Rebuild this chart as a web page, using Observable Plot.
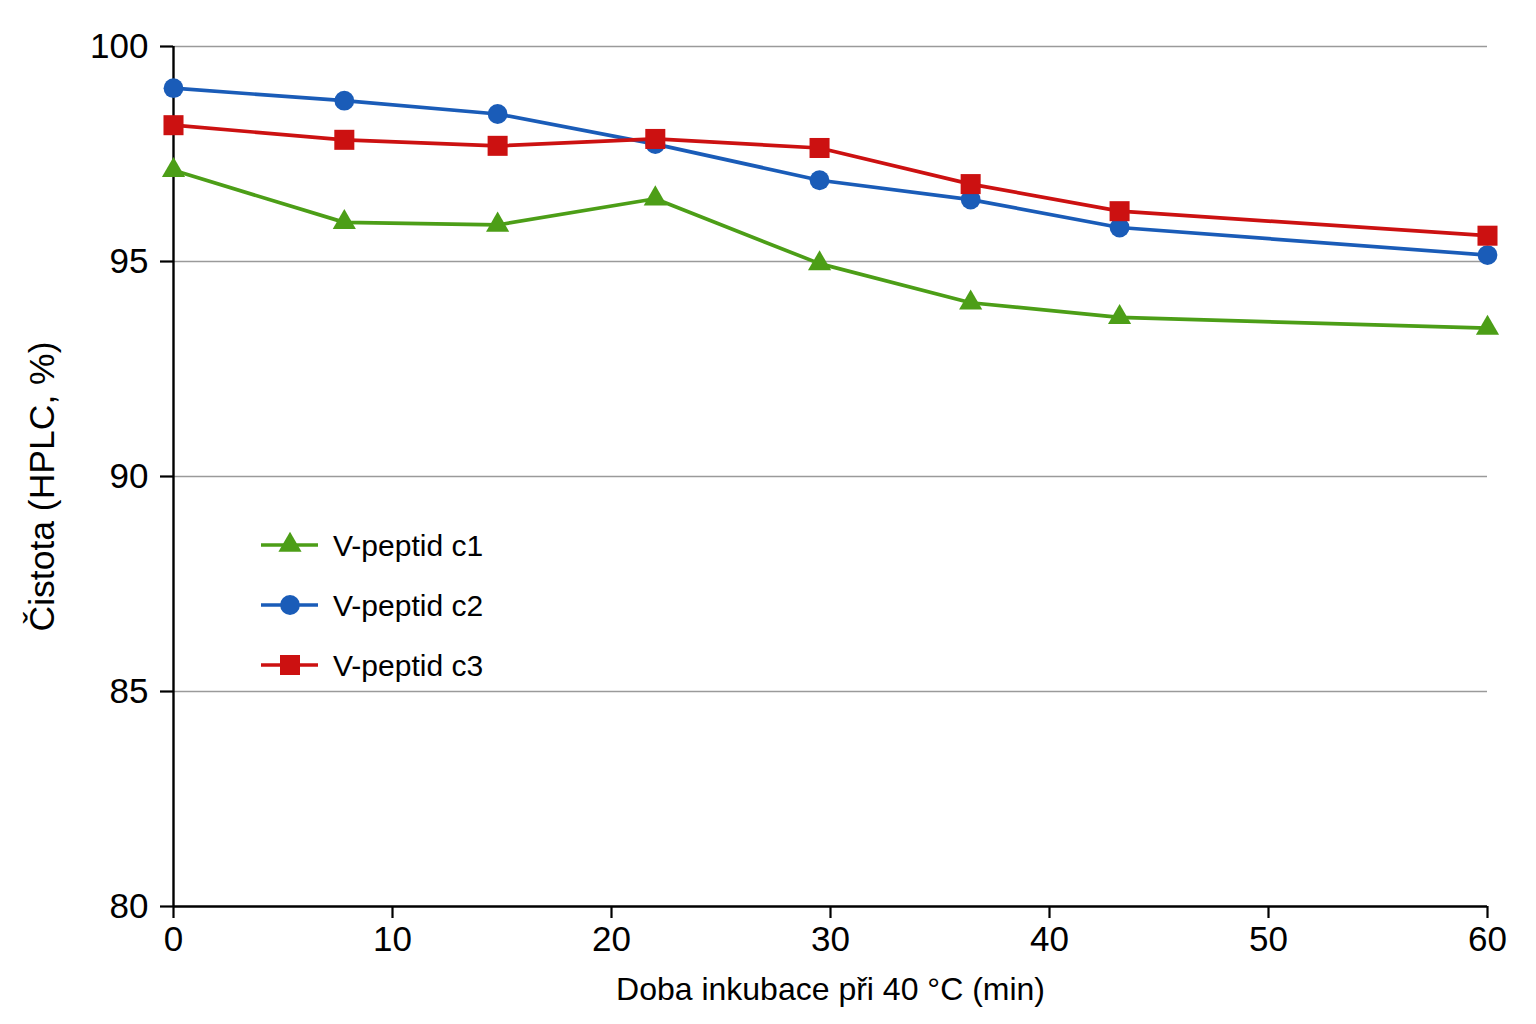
<!DOCTYPE html>
<html>
<head>
<meta charset="utf-8">
<script src="https://cdn.jsdelivr.net/npm/d3@7"></script>
<script src="https://cdn.jsdelivr.net/npm/@observablehq/plot@0.6"></script>
<style>
  html, body { margin: 0; padding: 0; background: #fff; }
  #chart svg { display: block; }
</style>
</head>
<body>
<div id="chart"></div>
<script>
// Incubation time at 40 °C (min)
const times = [0, 7.8, 14.8, 22, 29.5, 36.4, 43.2, 60];

// HPLC purity (%) for each peptide variant
const c1 = [97.12, 95.91, 95.85, 96.46, 94.95, 94.04, 93.70, 93.45];
const c2 = [99.03, 98.74, 98.43, 97.73, 96.89, 96.44, 95.79, 95.15];
const c3 = [98.17, 97.83, 97.69, 97.85, 97.64, 96.80, 96.17, 95.60];

const seriesNames = ["V-peptid c1", "V-peptid c2", "V-peptid c3"];
const seriesColors = ["#4c9e17", "#1a5cb8", "#cc1111"];
const seriesSymbols = ["triangle", "circle", "square"];
const seriesRadius = [8.6, 9.9, 11.3];

const xTicks = [0, 10, 20, 30, 40, 50, 60];
const yTicks = [80, 85, 90, 95, 100];
const yGrid = [85, 90, 95, 100];

const xTitle = "Doba inkubace při 40 °C (min)";
const yTitle = "Čistota (HPLC, %)";

const seriesRows = [c1, c2, c3].map((vals, i) =>
  vals.map((v, j) => ({series: seriesNames[i], t: times[j], purity: v}))
);
const rows = seriesRows.flat();

const sans = "Liberation Sans, Arial, sans-serif";
const narrow = "Liberation Sans Narrow, Arial Narrow, Liberation Sans, sans-serif";

const plot = Plot.plot({
  width: 1536,
  height: 1024,
  marginLeft: 173,
  marginRight: 49,
  marginTop: 46,
  marginBottom: 118,
  style: {background: "#fff", color: "#000", fontFamily: sans},
  x: {domain: [0, 60]},
  y: {domain: [80, 100]},
  color: {domain: seriesNames, range: seriesColors},
  symbol: {domain: seriesNames, range: seriesSymbols},
  marks: [
    Plot.gridY(yGrid, {stroke: "#9a9a9a", strokeOpacity: 1, strokeWidth: 1.6}),
    Plot.axisY(yTicks, {
      tickSize: 13, tickPadding: 12, strokeWidth: 2.2,
      fontSize: 35, label: null, className: "yaxis"
    }),
    Plot.axisX(xTicks, {
      tickSize: 12, tickPadding: 8, strokeWidth: 2.2,
      fontSize: 35, label: null, className: "xaxis"
    }),
    Plot.ruleX([0], {stroke: "#000", strokeWidth: 2.4}),
    Plot.ruleY([80], {stroke: "#000", strokeWidth: 2.4}),
    Plot.line(rows, {
      x: "t", y: "purity", z: "series", stroke: "series",
      strokeWidth: 3.7, curve: "linear"
    }),
    ...seriesRows.map((data, i) => Plot.dot(data, {
      x: "t", y: "purity", fill: "series", symbol: "series",
      r: seriesRadius[i], stroke: "none"
    })),
    Plot.text([xTitle], {
      frameAnchor: "bottom", textAnchor: "middle", dy: 83, lineAnchor: "middle",
      fontSize: 32, fill: "#000", className: "xtitle"
    }),
    Plot.text([yTitle], {
      frameAnchor: "left", textAnchor: "middle", rotate: -90, dx: -131, dy: 10,
      lineAnchor: "middle", fontSize: 35.5, fill: "#000", className: "ytitle"
    })
  ]
});

const svg = d3.select(plot);

// Fonts: regular sans for the y side, narrow sans for the x side
svg.selectAll(".yaxis text, .ytitle text").style("font-family", sans);
svg.selectAll(".xaxis text, .xtitle text").style("font-family", narrow);

// Legend inside the plot area, drawn on top of the plot's svg
const legend = svg.append("g").attr("class", "legend");
const symbolTypes = {triangle: d3.symbolTriangle, circle: d3.symbolCircle, square: d3.symbolSquare};
seriesNames.forEach((name, i) => {
  const y = 545 + i * 60;
  const g = legend.append("g");
  g.append("line")
    .attr("x1", 261).attr("x2", 318).attr("y1", y).attr("y2", y)
    .attr("stroke", seriesColors[i]).attr("stroke-width", 3.7);
  g.append("path")
    .attr("transform", `translate(290,${y})`)
    .attr("d", d3.symbol(symbolTypes[seriesSymbols[i]], Math.PI * seriesRadius[i] ** 2)())
    .attr("fill", seriesColors[i]);
  g.append("text")
    .attr("x", 333).attr("y", y).attr("dy", "0.35em")
    .attr("text-anchor", "start")
    .style("font-family", sans).style("font-size", "30px")
    .attr("fill", "#000")
    .text(name);
});

document.getElementById("chart").appendChild(plot);
</script>
</body>
</html>
